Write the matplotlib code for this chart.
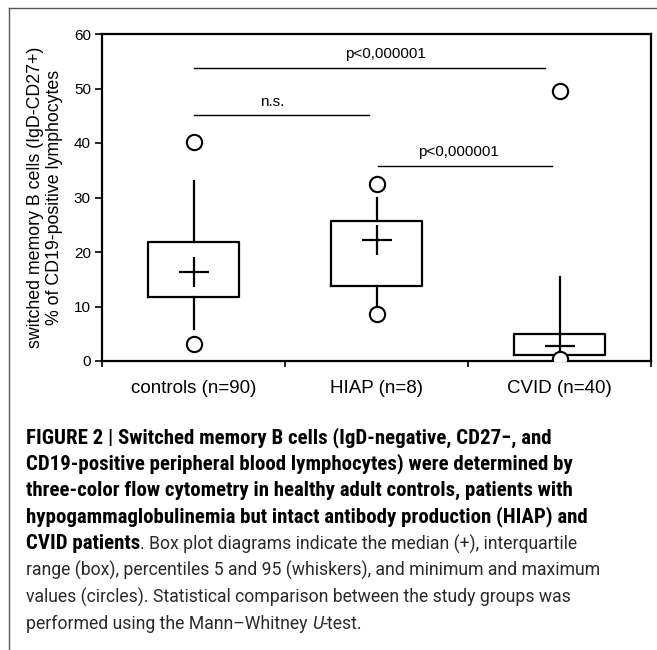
import numpy as np
import matplotlib
matplotlib.use('Agg')
import matplotlib.pyplot as plt
from matplotlib.lines import Line2D

plt.rcParams['font.family'] = ['Liberation Sans', 'DejaVu Sans']

# box plot values
groups = ['controls (n=90)', 'HIAP (n=8)', 'CVID (n=40)']
q1 = [11.7, 13.8, 1.1]
q3 = [21.8, 25.6, 4.9]
median = [16.3, 22.2, 2.75]
p5 = [5.9, 10.3, 0.6]
p95 = [33.1, 30.0, 15.5]
vmin = [3.2, 8.6, 0.3]
vmax = [40.1, 32.4, 49.6]

# significance brackets: (x start, x end, line y, label)
sig_x0 = [0.0, 0.0, 1.01]
sig_x1 = [1.92, 0.96, 1.96]
sig_y = [53.7, 45.1, 35.8]
sig_txt = ['p<0,000001', 'n.s.', 'p<0,000001']
sig_tx = [1.05, 0.43, 1.45]
sig_ty = [55.0, 46.3, 37.1]

caption = [
    [('FIGURE 2 | Switched memory B cells (IgD-negative, CD27\u2212, and', 'b')],
    [('CD19-positive peripheral blood lymphocytes) were determined by', 'b')],
    [('three-color flow cytometry in healthy adult controls, patients with', 'b')],
    [('hypogammaglobulinemia but intact antibody production (HIAP) and', 'b')],
    [('CVID patients', 'b'), ('. Box plot diagrams indicate the median (+), interquartile', 'r')],
    [('range (box), percentiles 5 and 95 (whiskers), and minimum and maximum', 'r')],
    [('values (circles). Statistical comparison between the study groups was', 'r')],
    [('performed using the Mann\u2013Whitney ', 'r'), ('U', 'i'), ('-test.', 'r')],
]

fig = plt.figure(figsize=(6.57, 6.5), dpi=100)
ax = fig.add_axes([102/657, 1-361/650, 549/657, 327/650])

stats = []
for i in range(3):
    stats.append(dict(med=median[i], q1=q1[i], q3=q3[i], whislo=p5[i],
                      whishi=p95[i], fliers=[]))
pos = np.arange(3)
ax.bxp(stats, positions=pos, widths=0.5, showcaps=False, showfliers=False,
       boxprops=dict(color='black', lw=1.6),
       whiskerprops=dict(color='black', lw=1.6),
       medianprops=dict(linestyle='none'))
ax.plot(pos, median, ls='none', marker='+', ms=22, mew=1.6, color='black')
ax.plot(pos, vmin, ls='none', marker='o', ms=11, mew=1.5, mfc='white', mec='black', zorder=5)
ax.plot(pos, vmax, ls='none', marker='o', ms=11, mew=1.5, mfc='white', mec='black', zorder=5)

for k in range(3):
    ax.plot([sig_x0[k], sig_x1[k]], [sig_y[k], sig_y[k]], color='black', lw=1)
    ax.text(sig_tx[k], sig_ty[k], sig_txt[k], ha='center', va='bottom', fontsize=11)

ax.set_xlim(-0.5, 2.5)
ax.set_ylim(0, 60)
ax.set_yticks([0, 10, 20, 30, 40, 50, 60])
ax.set_xticks([-0.5, 0.5, 1.5, 2.5])
ax.set_xticklabels([])
ax.set_xticks(pos, minor=True)
ax.set_xticklabels(groups, minor=True, fontsize=13.5)
ax.tick_params(axis='x', which='minor', length=0, pad=14)
ax.tick_params(axis='x', which='major', length=4, width=1.2, direction='out')
ax.tick_params(axis='y', length=5, width=1.2, direction='out', labelsize=11, pad=3)
for s in ax.spines.values():
    s.set_linewidth(1.6)
ax.set_ylabel('switched memory B cells (IgD-CD27+)\n% of CD19-positive lymphocytes',
              fontsize=12.8, linespacing=1.1, labelpad=8)

# outer frame of the figure panel
fig.add_artist(Line2D([9/657, 1], [1-7.5/650, 1-7.5/650], color='#555555', lw=1))
fig.add_artist(Line2D([9/657, 9/657], [0, 1-7.5/650], color='#555555', lw=1))

# caption: narrow fonts, sizes fitted to the reference line widths
fams_b = ['Roboto Condensed', 'Liberation Sans Narrow', 'DejaVu Sans']
fams_r = ['Roboto', 'Lato', 'DejaVu Sans']
fig.canvas.draw()
r = fig.canvas.get_renderer()


def width_at(txt, size, **kw):
    t = fig.text(0, 0, txt, fontsize=size, **kw)
    w = t.get_window_extent(renderer=r).width
    t.remove()
    return w


size_b = 12 * 527 / width_at(caption[0][0][0], 12, weight='bold', family=fams_b)
size_r = 12 * 574 / width_at(caption[5][0][0], 12, family=fams_r)
y0 = 443
for j, line in enumerate(caption):
    x = 26
    y = 1 - (y0 + j*26.6)/650
    for txt, st in line:
        kw = dict(va='baseline', ha='left')
        if st == 'b':
            kw.update(weight='bold', color='black', fontsize=size_b, family=fams_b)
        elif st == 'i':
            kw.update(style='italic', color='#2a2a2a', fontsize=size_r, family=fams_r)
        else:
            kw.update(color='#2a2a2a', fontsize=size_r, family=fams_r)
        t = fig.text(x/657, y, txt, **kw)
        bb = t.get_window_extent(renderer=r)
        x = bb.x1

fig.savefig('out.png', dpi=100)
